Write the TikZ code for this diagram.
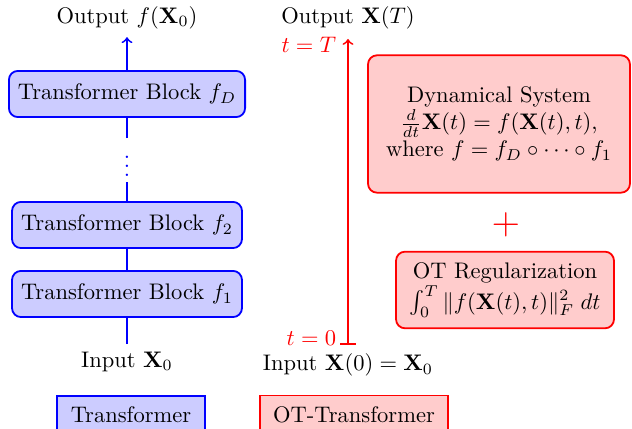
\documentclass[tikz,border=0pt]{standalone}
\usepackage{amsmath,amssymb}
\tikzset{
  tblock/.style={draw=blue,fill=blue!20,thick,rounded corners,minimum height=20.5pt,inner xsep=4pt},
  otblock/.style={draw=red,fill=red!20,thick,rounded corners,align=center},
  legend/.style={thick,inner xsep=6pt,inner ysep=5pt},
}
\begin{document}
\begin{tikzpicture}[x=0.444pt,y=-0.444pt]
\useasboundingbox (0,0) rectangle (632,429);
% Transformer
\node (out) at (127,18) {Output $f(\mathbf{X}_0)$};
\node[tblock] (fD) at (127,94) {Transformer Block $f_D$};
\node[text=blue,inner sep=2pt] (dots) at (127,160) {$\vdots$};
\node[tblock] (f2) at (127,225) {Transformer Block $f_2$};
\node[tblock] (f1) at (127,294) {Transformer Block $f_1$};
\node (in) at (127,362) {Input $\mathbf{X}_0$};
\draw[blue,thick,->] (fD) -- (out);
\draw[blue,thick] (in) -- (f1) (f1) -- (f2) (f2) -- (dots) (dots) -- (fD);
% OT-Transformer
\node (outT) at (348,18) {Output $\mathbf{X}(T)$};
\node (inT) at (348,365) {Input $\mathbf{X}(0)=\mathbf{X}_0$};
\coordinate (tT) at (348,39);
\coordinate (t0) at (348,345);
\draw[red,thick,|->] (t0) -- (tT);
\node[red,anchor=east] (lT) at (344,45) {$t=T$};
\node[red,anchor=east] (l0) at (344,338) {$t=0$};
\node[otblock,minimum height=61pt,inner xsep=8pt] (dyn) at (499,124)
  {Dynamical System\\ $\frac{d}{dt}\mathbf{X}(t)=f(\mathbf{X}(t),t)$,\\ where $f=f_D\circ\cdots\circ f_1$};
\node[red,font=\LARGE] (plus) at (506,225) {$+$};
\node[otblock,inner xsep=6pt,inner ysep=5pt] (reg) at (505,290)
  {OT Regularization\\ $\int_0^T\|f(\mathbf{X}(t),t)\|_F^2\;dt$};
% legend
\node[legend,draw=blue,fill=blue!20] (legT) at (131,415) {Transformer};
\node[legend,draw=red,fill=red!20] (legOT) at (354,415) {OT-Transformer};
\end{tikzpicture}
\end{document}
